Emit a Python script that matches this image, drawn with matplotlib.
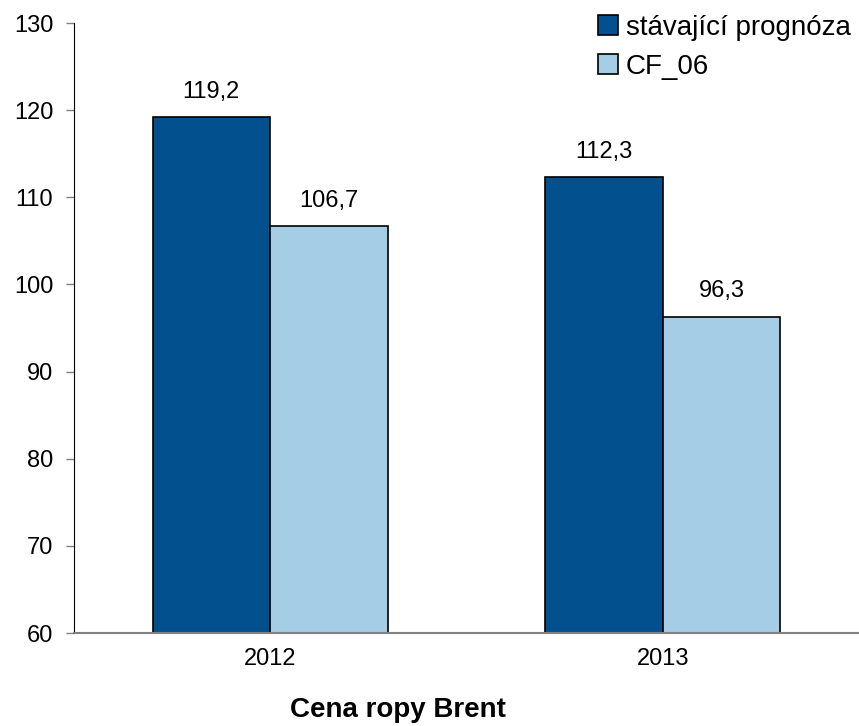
import matplotlib.pyplot as plt
import numpy as np

years = ["2012", "2013"]
current = [119.2, 112.3]
cf06 = [106.7, 96.3]
series_names = ["stávající prognóza", "CF_06"]

plt.rcParams["font.family"] = ["Liberation Sans", "DejaVu Sans"]

fig = plt.figure(figsize=(8.59, 7.26), dpi=100)
ax = fig.add_axes([74 / 859, 93 / 726, 785 / 859, 610 / 726])

x = np.arange(len(years))
w = 0.3
ax.bar(x - w / 2, np.array(current) - 60, w, bottom=60, color="#03508F",
       edgecolor="black", linewidth=1.2, label=series_names[0])
ax.bar(x + w / 2, np.array(cf06) - 60, w, bottom=60, color="#A5CDE5",
       edgecolor="black", linewidth=1.2, label=series_names[1])

# value labels above bars, decimal comma
for xs, vals in [(x - w / 2, current), (x + w / 2, cf06)]:
    for xi, v in zip(xs, vals):
        ax.annotate(f"{v:.1f}".replace(".", ","), (xi, v), xytext=(0, 14),
                    textcoords="offset points", ha="center", va="baseline", fontsize=17)

ax.set_xlim(-0.5, 1.5)
ax.set_ylim(60, 130)
ax.set_yticks(range(60, 131, 10))
ax.set_xticks(x)
ax.set_xticklabels(years)
ax.tick_params(axis="y", labelsize=17, length=6, width=1, color="#808080", pad=9)
ax.tick_params(axis="x", labelsize=17, length=0, pad=11)

for s in ["top", "right"]:
    ax.spines[s].set_visible(False)
ax.spines["left"].set_color("black")
ax.spines["bottom"].set_color("#808080")
ax.spines["bottom"].set_linewidth(1.5)

fig.legend(loc="upper left", bbox_to_anchor=(598 / 859, 1 - 15 / 726), frameon=False,
           fontsize=20, borderpad=0, borderaxespad=0, handlelength=0.72,
           handleheight=0.72, handletextpad=0.28, labelspacing=0.45)

fig.text(398 / 859, 1 - 710 / 726, "Cena ropy Brent", ha="center", va="center",
         fontsize=20, fontweight="bold")

fig.savefig("out.png", dpi=100)
